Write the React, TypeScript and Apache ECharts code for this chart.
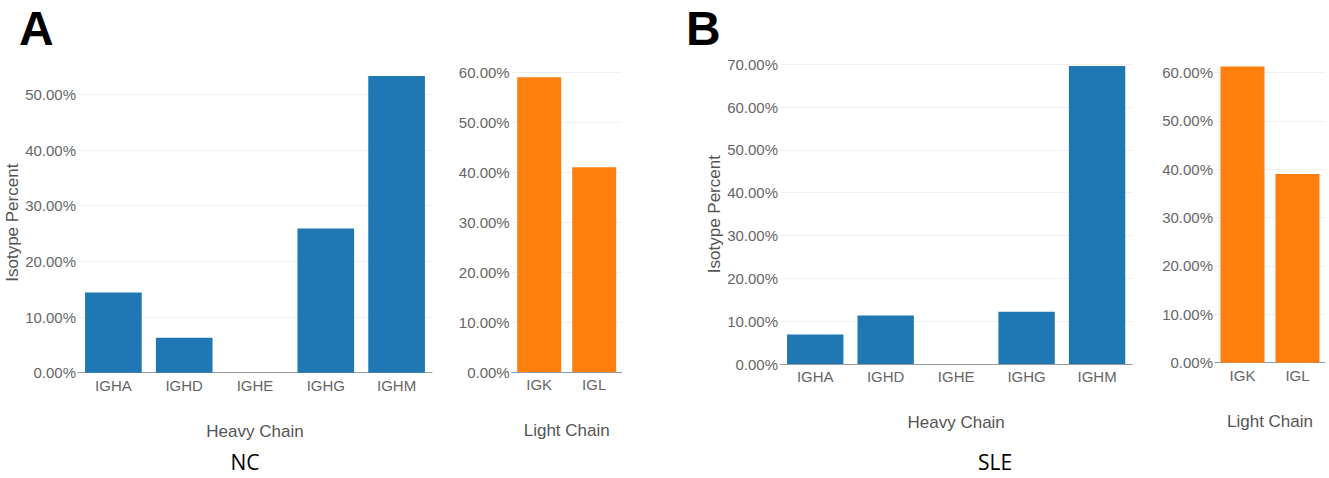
import React, { useEffect, useRef } from "react";
import * as echarts from "echarts";

const heavyCategories = ["IGHA", "IGHD", "IGHE", "IGHG", "IGHM"];
const lightCategories = ["IGK", "IGL"];
const ncHeavy = [14.4, 6.3, 0, 25.9, 53.3];
const ncLight = [59.0, 41.0];
const sleHeavy = [6.9, 11.3, 0, 12.2, 69.6];
const sleLight = [61.2, 39.0];
const yAxisTitle = "Isotype Percent";
const heavyTitle = "Heavy Chain";
const lightTitle = "Light Chain";
const panelLetters = ["A", "B"];
const groupLabels = ["NC", "SLE"];

const BLUE = "#1f77b4";
const ORANGE = "#ff7f0e";
const FONT = "'Liberation Sans', Arial, sans-serif";

export default function App() {
  const ref = useRef<HTMLDivElement>(null);
  useEffect(() => {
    if (!ref.current) return;
    const chart = echarts.init(ref.current, undefined, { renderer: "svg" });

    const grids = [
      { left: 78, top: 72.7, width: 354, height: 300 },
      { left: 511.7, top: 72.3, width: 110, height: 300 },
      { left: 780, top: 64.3, width: 352.3, height: 299.7 },
      { left: 1215, top: 62.7, width: 110, height: 300 },
    ];
    const maxes = [53.9, 60, 70, 62];
    const showMax = [false, true, true, false];
    const heavy = [true, false, true, false];
    const yNames = [yAxisTitle, "", yAxisTitle, ""];
    const yNameGaps = [53, 0, 55, 0];

    const xAxis = grids.map((_, i) => ({
      type: "category",
      gridIndex: i,
      data: heavy[i] ? heavyCategories : lightCategories,
      name: heavy[i] ? heavyTitle : lightTitle,
      nameLocation: "middle",
      nameGap: 50,
      nameTextStyle: { fontFamily: FONT, fontSize: 17, color: "#555" },
      axisLine: { show: true, lineStyle: { color: heavy[i] ? "#9a9a9a" : "#7d9fc0", width: 1.2 } },
      axisTick: { show: false },
      axisLabel: { fontFamily: FONT, fontSize: 15, color: "#666", margin: 5 },
      splitLine: { show: false },
    }));

    const yAxis = grids.map((_, i) => ({
      type: "value",
      gridIndex: i,
      min: 0,
      max: maxes[i],
      interval: 10,
      name: yNames[i],
      nameLocation: "middle",
      nameGap: yNameGaps[i],
      nameTextStyle: { fontFamily: FONT, fontSize: 17, color: "#555" },
      axisLine: { show: false },
      axisTick: { show: false },
      axisLabel: {
        fontFamily: FONT,
        fontSize: 15,
        color: "#666",
        margin: 2,
        showMaxLabel: showMax[i],
        formatter: (v: number) => v.toFixed(2) + "%",
      },
      splitLine: {
        show: true,
        showMinLine: false,
        showMaxLine: showMax[i],
        lineStyle: { color: "#f0f0f0", width: 1 },
      },
    }));

    const datas = [ncHeavy, ncLight, sleHeavy, sleLight];
    const series = datas.map((d, i) => ({
      type: "bar",
      xAxisIndex: i,
      yAxisIndex: i,
      data: d,
      barCategoryGap: "20%",
      itemStyle: { color: heavy[i] ? BLUE : ORANGE },
    }));

    chart.setOption({
      animation: false,
      backgroundColor: "#ffffff",
      grid: grids,
      xAxis,
      yAxis,
      series,
      graphic: [
        {
          type: "text",
          left: 19,
          top: 4,
          style: { text: panelLetters[0], font: `bold 48px ${FONT}`, fill: "#000" },
        },
        {
          type: "text",
          left: 686,
          top: 4,
          style: { text: panelLetters[1], font: `bold 48px ${FONT}`, fill: "#000" },
        },
        {
          type: "text",
          x: 245,
          y: 462,
          style: {
            text: groupLabels[0],
            font: `21px 'Open Sans', 'Noto Sans', sans-serif`,
            fill: "#000",
            align: "center",
            verticalAlign: "middle",
          },
        },
        {
          type: "text",
          x: 995,
          y: 462,
          style: {
            text: groupLabels[1],
            font: `21px 'Open Sans', 'Noto Sans', sans-serif`,
            fill: "#000",
            align: "center",
            verticalAlign: "middle",
          },
        },
      ],
    });
    return () => chart.dispose();
  }, []);
  return (
    <div
      ref={ref}
      style={{ position: "absolute", left: 0, top: 0, width: 1329, height: 478 }}
    />
  );
}
